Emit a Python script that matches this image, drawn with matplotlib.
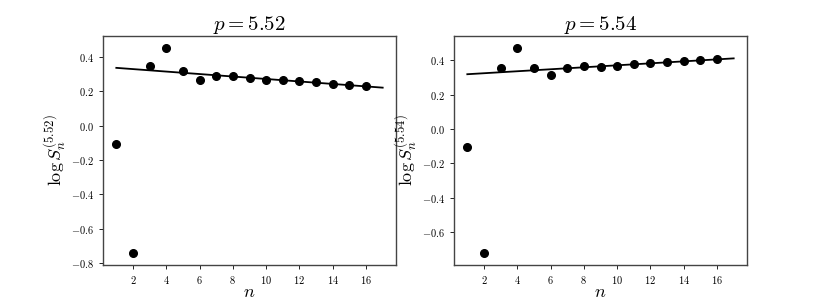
import matplotlib
matplotlib.use("Agg")
import matplotlib.pyplot as plt
import numpy as np
from matplotlib.ticker import FuncFormatter, MultipleLocator

plt.rcParams['mathtext.fontset'] = 'cm'
plt.rcParams['font.family'] = 'serif'
plt.rcParams['font.serif'] = ['DejaVu Serif']

n_values = list(range(1, 17))
p_labels = ["5.52", "5.54"]
logS_552 = [-0.108, -0.74, 0.343, 0.452, 0.318, 0.262, 0.29, 0.29, 0.277, 0.265,
            0.262, 0.256, 0.25, 0.243, 0.237, 0.23]
logS_554 = [-0.103, -0.723, 0.357, 0.472, 0.357, 0.311, 0.352, 0.363, 0.361, 0.363,
            0.375, 0.381, 0.387, 0.393, 0.40, 0.406]
fit_start = [0.335, 0.318]   # fitted value at n=1
fit_end = [0.22, 0.41]       # fitted value at n=17
fit_n = [1, 17]

fig = plt.figure(figsize=(8.3, 2.98), dpi=100)
ax1 = fig.add_axes([103/830, 1 - 265/298, 293/830, 229/298])
ax2 = fig.add_axes([454/830, 1 - 265/298, 293/830, 229/298])

fmt = FuncFormatter(lambda v, p: f'${v:.1f}$')
xfmt = FuncFormatter(lambda v, p: f'${int(v)}$')

for ax, ys, pl, fs, fe in zip([ax1, ax2], [logS_552, logS_554], p_labels, fit_start, fit_end):
    ax.plot(n_values, ys, 'o', color='black', markersize=5.5, zorder=3)
    ax.plot(fit_n, [fs, fe], '-', color='black', linewidth=1.3)
    ax.set_title(f'$p={pl}$', fontsize=15, pad=3)
    ax.set_xlabel('$n$', fontsize=13, labelpad=-2)
    ax.set_ylabel(r'$\log S_n^{(' + pl + ')}$', fontsize=13, labelpad=1)
    ax.xaxis.set_major_locator(MultipleLocator(2))
    ax.yaxis.set_major_locator(MultipleLocator(0.2))
    ax.yaxis.set_major_formatter(fmt)
    ax.xaxis.set_major_formatter(xfmt)
    ax.tick_params(labelsize=7.5, length=3, width=0.6)
    for s in ax.spines.values():
        s.set_edgecolor('#444444')
        s.set_linewidth(1.0)

ax1.set_xlim(0.2, 17.8)
ax2.set_xlim(0.2, 17.8)
ax1.set_ylim(-0.81, 0.52)
ax2.set_ylim(-0.79, 0.54)

fig.savefig('out.png', dpi=100)
